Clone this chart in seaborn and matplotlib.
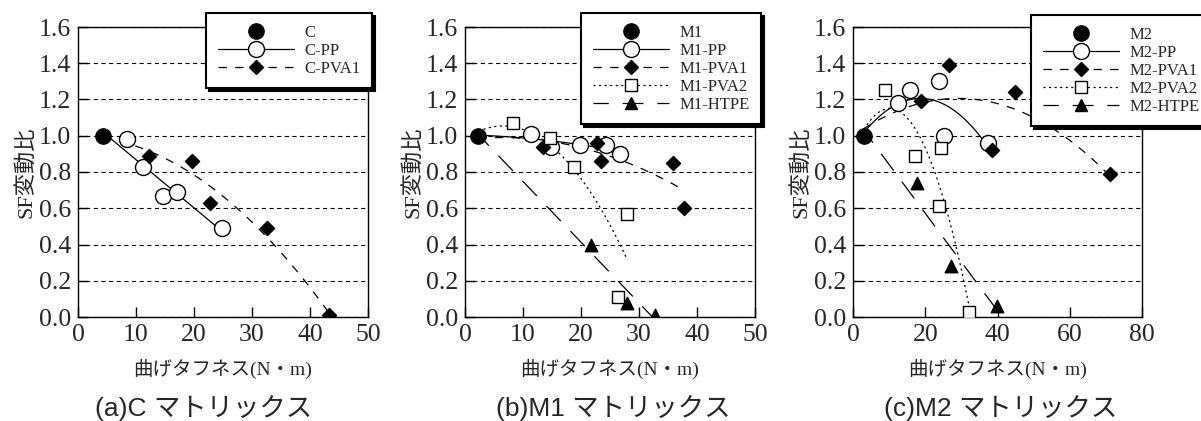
import numpy as np
import seaborn as sns
import matplotlib.pyplot as plt
from matplotlib.lines import Line2D

# --- data ---
# (a) C matrix
C_x = [4.3]
C_y = [1.00]
C_PP_x = [8.5, 11.2, 14.6, 17.1, 24.9]
C_PP_y = [0.98, 0.83, 0.67, 0.69, 0.49]
C_PVA1_x = [12.2, 19.7, 22.8, 32.6, 43.2]
C_PVA1_y = [0.89, 0.86, 0.63, 0.49, 0.01]

# (b) M1 matrix
M1_x = [2.3]
M1_y = [1.00]
M1_PP_x = [11.3, 14.8, 19.9, 24.3, 26.8]
M1_PP_y = [1.01, 0.94, 0.95, 0.95, 0.90]
M1_PVA1_x = [13.5, 22.7, 23.4, 35.8, 37.7]
M1_PVA1_y = [0.94, 0.96, 0.86, 0.85, 0.60]
M1_PVA2_x = [8.3, 14.7, 18.8, 26.4, 28.0]
M1_PVA2_y = [1.07, 0.99, 0.83, 0.11, 0.57]
M1_HTPE_x = [21.7, 28.0, 32.8]
M1_HTPE_y = [0.40, 0.08, 0.01]

# (c) M2 matrix
M2_x = [3.0]
M2_y = [1.00]
M2_PP_x = [12.5, 15.8, 23.9, 25.2, 37.4]
M2_PP_y = [1.18, 1.25, 1.30, 1.00, 0.96]
M2_PVA1_x = [18.8, 26.6, 38.6, 44.8, 71.2]
M2_PVA1_y = [1.19, 1.39, 0.92, 1.24, 0.79]
M2_PVA2_x = [8.9, 17.3, 23.7, 24.4, 32.1]
M2_PVA2_y = [1.25, 0.89, 0.61, 0.93, 0.03]
M2_HTPE_x = [17.7, 27.2, 39.9]
M2_HTPE_y = [0.74, 0.28, 0.06]

xlabel = '曲げタフネス(N・m)'
ylabel = 'SF変動比'
captions = ['(a)C マトリックス', '(b)M1 マトリックス', '(c)M2 マトリックス']

sns.set_style('ticks')
plt.rcParams['font.family'] = ['Liberation Serif', 'Noto Sans CJK JP']
plt.rcParams['lines.scale_dashes'] = False
plt.rcParams['axes.linewidth'] = 1.0

# style per series kind: marker, facecolor, marker size, line style
styles = {
    'base': dict(marker='o', mfc='k', ms=11, ls='none'),
    'PP': dict(marker='o', mfc='white', ms=11.5, ls='-'),
    'PVA1': dict(marker='D', mfc='k', ms=7.2, ls=(0, (6, 6))),
    'PVA2': dict(marker='s', mfc='white', ms=8.5, ls=(0, (1.5, 2.5))),
    'HTPE': dict(marker='^', mfc='k', ms=9, ls=(4, (15, 10))),
}

# name, base point, (kind, x, y, fit order) per series, x axis range
panels = [
    ('C', C_x, C_y, [('PP', C_PP_x, C_PP_y, 1), ('PVA1', C_PVA1_x, C_PVA1_y, 2)], [0, 50, 10]),
    ('M1', M1_x, M1_y, [('PP', M1_PP_x, M1_PP_y, 2), ('PVA1', M1_PVA1_x, M1_PVA1_y, 2),
                        ('PVA2', M1_PVA2_x, M1_PVA2_y, 2), ('HTPE', M1_HTPE_x, M1_HTPE_y, 1)], [0, 50, 10]),
    ('M2', M2_x, M2_y, [('PP', M2_PP_x, M2_PP_y, 2), ('PVA1', M2_PVA1_x, M2_PVA1_y, 2),
                        ('PVA2', M2_PVA2_x, M2_PVA2_y, 2), ('HTPE', M2_HTPE_x, M2_HTPE_y, 1)], [0, 80, 20]),
]

fig = plt.figure(figsize=(12.01, 4.21), dpi=100)
W, H = 1201, 421
ax_left = [78, 465, 853]
ax_w = [290, 290, 289]
cap_x = [204, 613, 1001]
leg_pos = [('upper right', (1.014, 1.048)), ('upper right', (1.021, 1.048)), ('upper left', (0.616, 1.041))]

for i, (name, bx, by, series, xr) in enumerate(panels):
    ax = fig.add_axes([ax_left[i] / W, (H - 317) / H, ax_w[i] / W, 290 / H])
    ax.yaxis.grid(True, color='k', lw=0.8, ls=(0, (3, 2.5)))
    ax.set_axisbelow(True)

    handles = []
    st = styles['base']
    sns.scatterplot(x=bx, y=by, marker='o', s=st['ms'] ** 2, color='k', edgecolor='k',
                    linewidth=1, zorder=4, ax=ax)
    handles.append(Line2D([], [], ls='none', marker='o', mfc='k', mec='k', ms=st['ms'], label=name))

    for kind, sx, sy, order in series:
        st = styles[kind]
        # trend curves start from the plain-matrix point
        fx = np.array(bx + sx)
        fy = np.array(by + sy)
        sns.regplot(x=fx, y=fy, order=order, ci=None, scatter=False, truncate=True, ax=ax,
                    line_kws=dict(color='k', lw=0.9, ls=st['ls']))
        sns.scatterplot(x=sx, y=sy, marker=st['marker'], s=st['ms'] ** 2, color=st['mfc'],
                        edgecolor='k', linewidth=1, zorder=4, ax=ax)
        handles.append(Line2D([], [], color='k', lw=0.9, ls=st['ls'], marker=st['marker'],
                              mfc=st['mfc'], mec='k', ms=st['ms'], label=f'{name}-{kind}'))

    ax.set_xlim(xr[0], xr[1])
    ax.set_xticks(np.arange(xr[0], xr[1] + 1, xr[2]))
    ax.set_ylim(0, 1.6)
    ax.set_yticks(np.arange(0, 1.61, 0.2))
    ax.yaxis.set_major_formatter(plt.FormatStrFormatter('%.1f'))
    ax.tick_params(direction='in', length=7, width=1, labelsize=18.5, pad=5, color='k')
    for sp in ax.spines.values():
        sp.set_visible(True)
        sp.set_color('k')

    ax.set_xlabel(xlabel, fontsize=14, labelpad=9)
    ax.set_ylabel(ylabel, fontsize=16, labelpad=2)

    loc, anchor = leg_pos[i]
    leg = ax.legend(handles=handles, loc=loc, bbox_to_anchor=anchor, borderaxespad=0,
                    fontsize=12, labelspacing=0.12, handlelength=4.6, handletextpad=0.6,
                    borderpad=0.7, fancybox=False, framealpha=1, edgecolor='k',
                    shadow={'color': 'k', 'alpha': 1})
    leg.get_frame().set_linewidth(1.5)
    leg.set_zorder(10)

    fig.text(cap_x[i] / W, 1 - 408 / H, captions[i], ha='center', va='center', fontsize=19,
             family=['Liberation Sans', 'Noto Sans CJK JP'])

fig.savefig('out.png', dpi=100)
